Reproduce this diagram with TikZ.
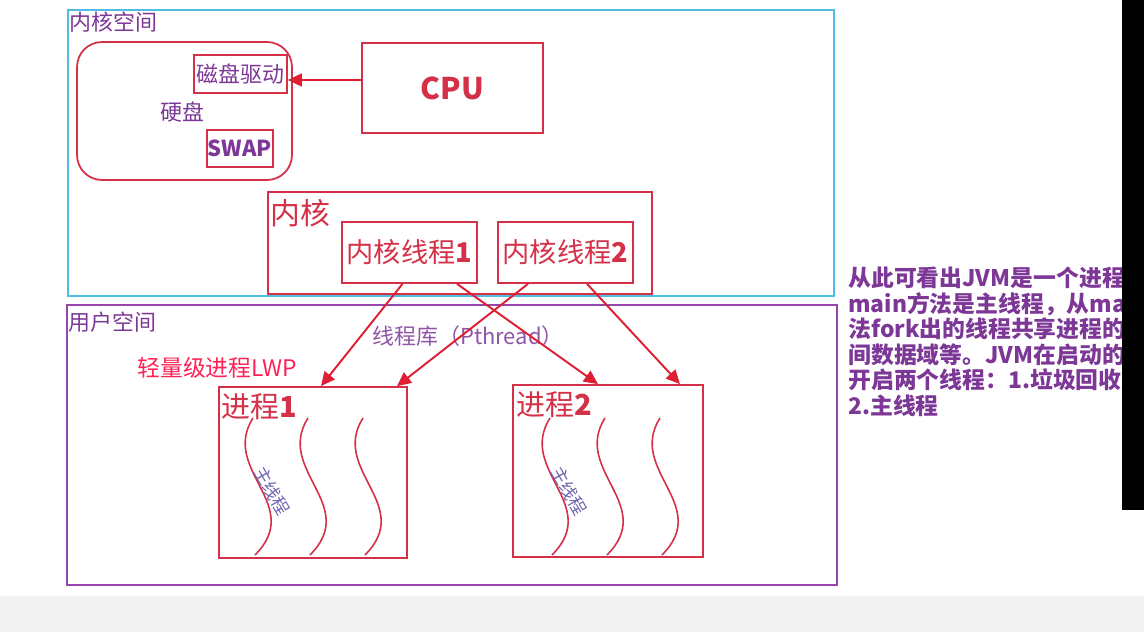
\documentclass[tikz,border=0pt]{standalone}
\usepackage{fontspec}
\setmainfont{Noto Sans CJK SC}
\usetikzlibrary{shapes,positioning,arrows.meta}
\usetikzlibrary{calc}
\definecolor{kcyan}{RGB}{80,190,228}
\definecolor{kred}{RGB}{212,48,72}
\definecolor{kpurple}{RGB}{150,70,170}
\definecolor{ktext}{RGB}{125,55,150}
\definecolor{lwpred}{RGB}{255,35,85}
\definecolor{arrred}{RGB}{222,30,50}
\definecolor{mainthr}{RGB}{110,100,175}

\begin{document}
\begin{tikzpicture}[
        x=0.02cm, y=-0.02cm,
        spacebox/.style={rectangle, draw, line width=1.3pt, inner sep=0pt},
        redbox/.style={rectangle, draw=kred, line width=1pt, inner sep=0pt},
        lbl/.style={text=ktext, font=\fontsize{12.5}{15}\selectfont, inner sep=0pt},
        thr/.style={text=kred, font=\fontsize{15.5}{18}\selectfont, inner sep=0pt},
        arr/.style={draw=arrred, line width=1.1pt, -{Triangle[length=0.28cm,width=0.26cm]}},
        wave/.style={draw=kred, line width=0.9pt}
    ]
    \useasboundingbox (0,0) rectangle (1144,632);
    \fill[black!5] (0,596) rectangle (1144,632);

    \node (kspace) at (451,153) [spacebox, draw=kcyan, minimum width=15.32cm, minimum height=5.72cm] {};
    \node (kspacelbl) [lbl, anchor=west] at (69,22) {内核空间};

    \node (disk) at (184.5,111) [redbox, rounded corners=0.5cm, minimum width=4.3cm, minimum height=2.76cm] {};
    \node (disklbl) [lbl] at (182,112) {硬盘};
    \node (driver) at (240.5,74) [redbox, lbl, minimum width=1.86cm, minimum height=0.76cm] {磁盘驱动};
    \node (swap) at (240,148.5) [redbox, lbl, font=\bfseries\fontsize{12.5}{15}\selectfont, minimum width=1.32cm, minimum height=0.74cm] {SWAP};
    \node (cpu) at (452.5,88) [redbox, text=kred, font=\bfseries\fontsize{17}{20}\selectfont, minimum width=3.62cm, minimum height=1.8cm] {CPU};
    \draw[arr] ([yshift=0.16cm]cpu.west) -- ([yshift=-0.12cm]driver.east);

    \node (kernel) at (460,243) [redbox, minimum width=7.68cm, minimum height=2.04cm] {};
    \node (kernellbl) [thr, anchor=west, font=\fontsize{17}{20}\selectfont] at (270,213) {内核};
    \node (kt1) at (409.5,252.5) [redbox, thr, minimum width=2.7cm, minimum height=1.22cm] {内核线程\textbf{1}};
    \node (kt2) at (565.5,252.5) [redbox, thr, minimum width=2.7cm, minimum height=1.22cm] {内核线程\textbf{2}};

    \node (uspace) at (452,445) [spacebox, draw=kpurple, minimum width=15.4cm, minimum height=5.6cm] {};
    \node (uspacelbl) [lbl, anchor=west] at (68,322) {用户空间};
    \node (pthread) [lbl, text=ktext!85] at (468,336) {线程库（Pthread）};
    \node (lwp) [anchor=west, text=lwpred, font=\fontsize{13}{15}\selectfont, inner sep=0pt] at (137,368) {轻量级进程LWP};

    \node (p1) at (313,472.5) [redbox, minimum width=3.76cm, minimum height=3.42cm] {};
    \node (p2) at (608,471) [redbox, minimum width=3.8cm, minimum height=3.44cm] {};
    \node (p1lbl) [thr, anchor=west, font=\fontsize{16.5}{19}\selectfont] at (221,407) {进程\textbf{1}};
    \node (p2lbl) [thr, anchor=west, font=\fontsize{16.5}{19}\selectfont] at (516,405) {进程\textbf{2}};

    \draw[arr] ([xshift=-0.14cm]kt1.south) -- ([xshift=0.16cm]p1.north);
    \draw[arr] ([xshift=0.95cm]kt1.south) -- ([xshift=-0.2cm]p2.north);
    \draw[arr] ([xshift=-0.75cm]kt2.south) -- ([xshift=1.68cm]p1.north);
    \draw[arr] ([xshift=0.43cm]kt2.south) -- ([xshift=1.44cm]p2.north);

    \foreach \bx in {253,550} {
        \foreach \dx in {0,55,110} {
            \draw[wave] (\bx+\dx,418) .. controls (\bx+\dx-33,470) and (\bx+\dx+52,505) .. (\bx+\dx+2,555);
        }
        \node[text=mainthr, font=\fontsize{10}{12}\selectfont, rotate=-60, inner sep=0pt] at (\bx+19,491) {主线程};
    }

    \node (note) [anchor=north west, align=left, text=ktext, inner sep=0pt,
        font=\bfseries\fontsize{13}{14.5}\selectfont] at (848,267)
        {从此可看出JVM是一个进程\\main方法是主线程，从ma\\法fork出的线程共享进程的\\间数据域等。JVM在启动的\\开启两个线程：1.垃圾回收\\2.主线程};
    \fill[black] (1122,0) rectangle (1144,510);
\end{tikzpicture}
\end{document}
